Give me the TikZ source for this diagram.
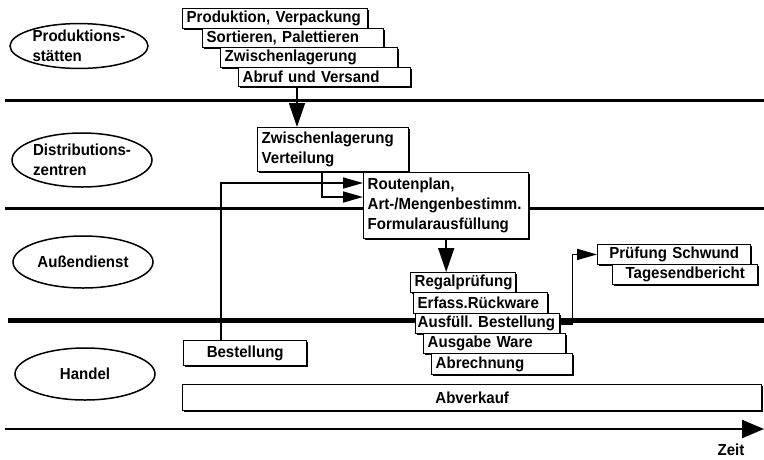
\documentclass[tikz,border=0pt]{standalone}
\usepackage{fontspec}
\setmainfont{Liberation Sans}[FakeStretch=0.94]
\usetikzlibrary{arrows.meta,shapes.geometric,shadows}

\tikzset{
  kasten/.style={draw, fill=white, line width=1.4pt, anchor=north west,
    inner xsep=4pt, inner ysep=0pt, align=left,
    drop shadow={shadow xshift=1.3pt, shadow yshift=-1.3pt, fill=black, opacity=1}},
  oval/.style={draw, ellipse, line width=1.5pt, inner sep=0pt, align=left},
  trenn/.style={line width=3pt},
  pfeil/.style={line width=1.6pt, -{Triangle[length=20pt,width=11pt]}},
  dickpfeil/.style={line width=1.6pt, -{Triangle[length=24pt,width=16pt]}},
  achse/.style={line width=2.2pt, -{Triangle[length=22pt,width=18pt]}},
}

\begin{document}
\begin{tikzpicture}[x=1pt, y=-1pt, font=\fontsize{16}{20}\selectfont\bfseries]
			\useasboundingbox (0,0) rectangle (764,459);
			
			%%%%% Trennlinien %%%%%
			\draw[trenn] (5,100) -- (764,100);
			\draw[trenn] (5,208) -- (764,208);
			\draw[trenn, line width=5pt] (8,320) -- (764,320);
			
			%%%%% Ebenen %%%%%
			\node[oval, minimum width=138pt, minimum height=42pt] (prodst) at (79,46) {Produktions-\\stätten};
			\node[oval, minimum width=140pt, minimum height=54pt] (distz) at (82,160) {Distributions-\\zentren};
			\node[oval, minimum width=140pt, minimum height=52pt] (aussen) at (83,262) {Außendienst};
			\node[oval, minimum width=140pt, minimum height=52pt] (handel) at (85,374) {Handel};
			
			%%%%% Produktion %%%%%
			\node[kasten, text width=177pt, minimum height=19.5pt] (prod) at (182,8) {Produktion, Verpackung};
			\node[kasten, text width=173pt, minimum height=19.5pt] (sort) at (202,27.5) {Sortieren, Palettieren};
			\node[kasten, text width=169pt, minimum height=19.5pt] (zwl) at (220,47) {Zwischenlagerung};
			\node[kasten, text width=164pt, minimum height=19.5pt] (abruf) at (238,66.5) {Abruf und Versand};
			
			%%%%% Distribution %%%%%
			\node[kasten, text width=143pt, minimum height=44pt] (zwv) at (257,127) {Zwischenlagerung\\Verteilung};
			\node[kasten, text width=157pt, minimum height=66pt] (routen) at (363,172) {Routenplan,\\Art-/Mengenbestimm.\\Formularausfüllung};
			
			%%%%% Aussendienst / Handel %%%%%
			\node[kasten, text width=97pt, minimum height=20pt] (regal) at (410,272) {Regalprüfung};
			\node[kasten, text width=126pt, minimum height=21pt] (erfass) at (413,292) {Erfass.Rückware};
			\node[kasten, text width=140pt, inner xsep=2pt, minimum height=20pt] (ausf) at (415,313) {\mbox{Ausfüll.\ Bestellung}};
			\node[kasten, text width=134pt, minimum height=20pt] (ausgabe) at (423,333) {Ausgabe Ware};
			\node[kasten, text width=133pt, minimum height=21pt] (abrech) at (431,353) {Abrechnung};
			
			\node[kasten, text width=145pt, minimum height=19.5pt, align=center] (pruef) at (597,244) {Prüfung Schwund};
			\node[kasten, text width=137pt, minimum height=19.5pt, align=center] (tages) at (612,264) {Tagesendbericht};
			
			\node[kasten, text width=115pt, minimum height=25pt, align=center] (best) at (183,340) {Bestellung};
			\node[kasten, text width=571pt, minimum height=26pt, align=center] (abverk) at (182,384) {Abverkauf};
			
			%%%%% Verbindungen %%%%%
			\coordinate (ab) at ([xshift=59pt]abruf.south west);
			\draw[dickpfeil] (ab) -- (ab |- zwv.north);
			\draw[pfeil] ([xshift=38pt]best.north west) |- ([yshift=-11pt]routen.north west);
			\draw[pfeil] ([xshift=65pt]zwv.south west) |- ([yshift=-25pt]routen.north west);
			\draw[dickpfeil] (routen.south) -- (routen.south |- regal.north);
			\draw[pfeil] (ausf.east) -- ++(12,0) |- (pruef.west);
			
			%%%%% Zeitachse %%%%%
			\coordinate (t0) at (5,429);
			\coordinate (t1) at (764,429);
			\draw[achse] (t0) -- (t1);
			\node[inner sep=0pt] (zeit) at (731,450) {Zeit};
		\end{tikzpicture}
\end{document}
